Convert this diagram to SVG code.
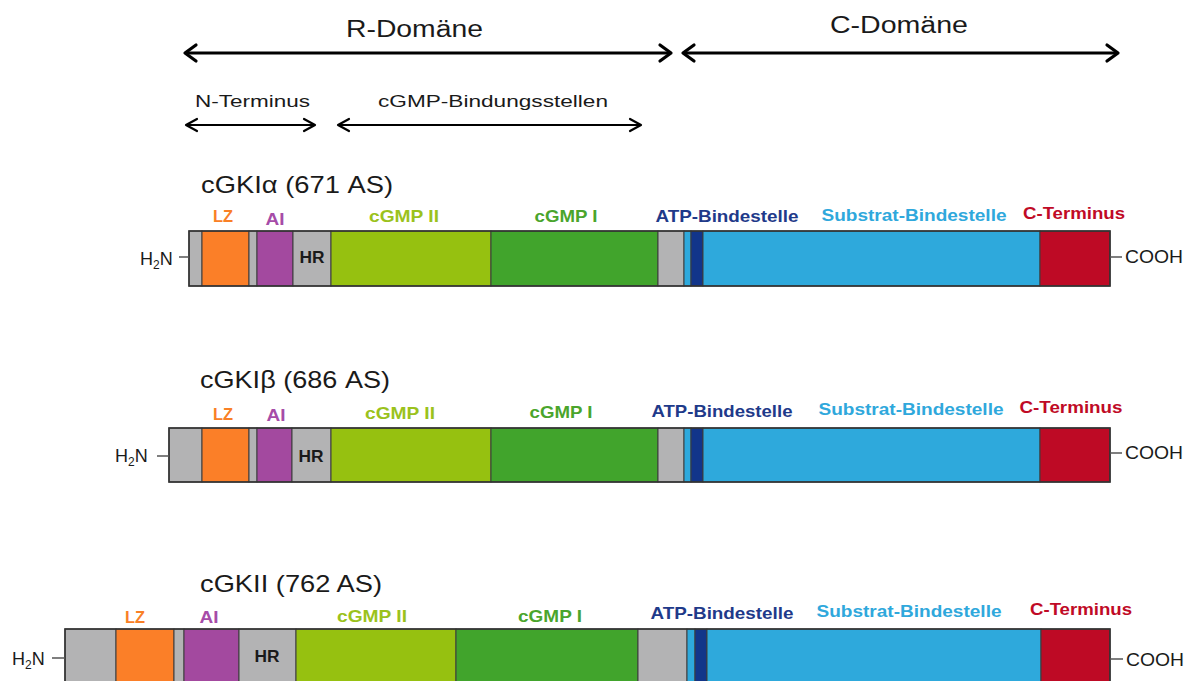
<svg xmlns="http://www.w3.org/2000/svg" width="1191" height="681" viewBox="0 0 1191 681">
<style>
  .t{font-family:"Liberation Sans",Arial,sans-serif;fill:#1a1a1a}
  .dom{font-size:23px}
  .sub{font-size:16.5px}
  .title{font-size:24px}
  .lab{font-size:16.5px;font-weight:bold}
  .term{font-size:18px}
  .seg{stroke:#3c3c3c;stroke-width:1}
  .outline{fill:none;stroke:#333;stroke-width:1.6}
  .gray{fill:#b3b3b4}
  .lz{fill:#fb7f28}
  .ai{fill:#a3499f}
  .g2{fill:#96c110}
  .g1{fill:#41a42c}
  .lb{fill:#2ea9dc}
  .db{fill:#12358a}
  .red{fill:#be0a25}
  .cLZ{fill:#f98026}
  .cAI{fill:#a64ca8}
  .cG2{fill:#9bc21c}
  .cG1{fill:#4aa52c}
  .cATP{fill:#1f3a8a}
  .cSUB{fill:#2fa8dc}
  .cCT{fill:#c00a26}
  .big{stroke:#000;stroke-width:3;fill:none}
  .small{stroke:#000;stroke-width:2;fill:none}
  .stub{stroke:#555;stroke-width:1.5}
</style>
<defs>
  <marker id="chevBig" markerUnits="userSpaceOnUse" markerWidth="30" markerHeight="30" viewBox="-15 -15 30 30" refX="0" refY="0" orient="auto-start-reverse" overflow="visible">
    <path d="M-11,-8 L0,0 L-11,8" fill="none" stroke="#000" stroke-width="3.2" stroke-linecap="round" stroke-linejoin="round"/>
  </marker>
  <marker id="chevSmall" markerUnits="userSpaceOnUse" markerWidth="30" markerHeight="30" viewBox="-15 -15 30 30" refX="0" refY="0" orient="auto-start-reverse" overflow="visible">
    <path d="M-11,-6 L0,0 L-11,6" fill="none" stroke="#000" stroke-width="2.2" stroke-linecap="round" stroke-linejoin="round"/>
  </marker>
</defs>

<g id="connectors">
  <line class="big" x1="185" y1="53" x2="671" y2="53" marker-start="url(#chevBig)" marker-end="url(#chevBig)"/>
  <line class="big" x1="683" y1="53" x2="1118" y2="53" marker-start="url(#chevBig)" marker-end="url(#chevBig)"/>
  <line class="small" x1="186" y1="125" x2="315" y2="125" marker-start="url(#chevSmall)" marker-end="url(#chevSmall)"/>
  <line class="small" x1="338" y1="125" x2="641" y2="125" marker-start="url(#chevSmall)" marker-end="url(#chevSmall)"/>
</g>

<g id="domain-labels">
  <text class="t dom" x="346" y="37" textLength="137" lengthAdjust="spacingAndGlyphs">R-Domäne</text>
  <text class="t dom" x="830" y="33" textLength="138" lengthAdjust="spacingAndGlyphs">C-Domäne</text>
  <text class="t sub" x="195" y="107" textLength="115" lengthAdjust="spacingAndGlyphs">N-Terminus</text>
  <text class="t sub" x="378" y="107" textLength="230" lengthAdjust="spacingAndGlyphs">cGMP-Bindungsstellen</text>
</g>

<g id="cGKIalpha">
  <text class="t title" x="201" y="193" textLength="192" lengthAdjust="spacingAndGlyphs">cGKIα (671 AS)</text>
  <rect class="seg gray" x="189" y="231" width="13" height="55"/>
  <rect class="seg lz" x="202" y="231" width="47" height="55"/>
  <rect class="seg gray" x="249" y="231" width="8" height="55"/>
  <rect class="seg ai" x="257" y="231" width="36" height="55"/>
  <rect class="seg gray" x="293" y="231" width="38" height="55"/>
  <rect class="seg g2" x="331" y="231" width="160" height="55"/>
  <rect class="seg g1" x="491" y="231" width="167" height="55"/>
  <rect class="seg gray" x="658" y="231" width="26" height="55"/>
  <rect class="seg lb" x="684" y="231" width="7" height="55"/>
  <rect class="seg db" x="691" y="231" width="12" height="55"/>
  <rect class="seg lb" x="703" y="231" width="337" height="55"/>
  <rect class="seg red" x="1040" y="231" width="70" height="55"/>
  <rect class="outline" x="189" y="231" width="921" height="55"/>
  <line class="stub" x1="179" y1="257" x2="189" y2="257"/>
  <line class="stub" x1="1110" y1="257" x2="1122" y2="257"/>
  <text class="t term" x="140" y="265">H<tspan font-size="12" dy="4">2</tspan><tspan dy="-4">N</tspan></text>
  <text class="t term" x="1125" y="263" textLength="58" lengthAdjust="spacingAndGlyphs">COOH</text>
  <text class="t lab cLZ" x="223" y="222" text-anchor="middle" textLength="20" lengthAdjust="spacingAndGlyphs">LZ</text>
  <text class="t lab cAI" x="275" y="225" text-anchor="middle" textLength="19" lengthAdjust="spacingAndGlyphs">AI</text>
  <text class="t lab cG2" x="404" y="222" text-anchor="middle" textLength="70" lengthAdjust="spacingAndGlyphs">cGMP II</text>
  <text class="t lab" x="312" y="263" text-anchor="middle" textLength="25" lengthAdjust="spacingAndGlyphs">HR</text>
  <text class="t lab cG1" x="566" y="222" text-anchor="middle" textLength="63" lengthAdjust="spacingAndGlyphs">cGMP I</text>
  <text class="t lab cATP" x="727" y="222" text-anchor="middle" textLength="143" lengthAdjust="spacingAndGlyphs">ATP-Bindestelle</text>
  <text class="t lab cSUB" x="914" y="221" text-anchor="middle" textLength="185" lengthAdjust="spacingAndGlyphs">Substrat-Bindestelle</text>
  <text class="t lab cCT" x="1074" y="219" text-anchor="middle" textLength="102" lengthAdjust="spacingAndGlyphs">C-Terminus</text>
</g>

<g id="cGKIbeta">
  <text class="t title" x="200" y="388" textLength="190" lengthAdjust="spacingAndGlyphs">cGKIβ (686 AS)</text>
  <rect class="seg gray" x="169" y="428" width="33" height="54"/>
  <rect class="seg lz" x="202" y="428" width="47" height="54"/>
  <rect class="seg gray" x="249" y="428" width="8" height="54"/>
  <rect class="seg ai" x="257" y="428" width="35" height="54"/>
  <rect class="seg gray" x="292" y="428" width="39" height="54"/>
  <rect class="seg g2" x="331" y="428" width="160" height="54"/>
  <rect class="seg g1" x="491" y="428" width="167" height="54"/>
  <rect class="seg gray" x="658" y="428" width="26" height="54"/>
  <rect class="seg lb" x="684" y="428" width="7" height="54"/>
  <rect class="seg db" x="691" y="428" width="12" height="54"/>
  <rect class="seg lb" x="703" y="428" width="337" height="54"/>
  <rect class="seg red" x="1040" y="428" width="70" height="54"/>
  <rect class="outline" x="169" y="428" width="941" height="54"/>
  <line class="stub" x1="157" y1="456" x2="169" y2="456"/>
  <line class="stub" x1="1110" y1="453" x2="1122" y2="453"/>
  <text class="t term" x="115" y="462">H<tspan font-size="12" dy="4">2</tspan><tspan dy="-4">N</tspan></text>
  <text class="t term" x="1125" y="459" textLength="58" lengthAdjust="spacingAndGlyphs">COOH</text>
  <text class="t lab cLZ" x="223" y="420" text-anchor="middle" textLength="20" lengthAdjust="spacingAndGlyphs">LZ</text>
  <text class="t lab cAI" x="276" y="421" text-anchor="middle" textLength="19" lengthAdjust="spacingAndGlyphs">AI</text>
  <text class="t lab cG2" x="400" y="419" text-anchor="middle" textLength="70" lengthAdjust="spacingAndGlyphs">cGMP II</text>
  <text class="t lab" x="311" y="462" text-anchor="middle" textLength="25" lengthAdjust="spacingAndGlyphs">HR</text>
  <text class="t lab cG1" x="561" y="418" text-anchor="middle" textLength="63" lengthAdjust="spacingAndGlyphs">cGMP I</text>
  <text class="t lab cATP" x="722" y="417" text-anchor="middle" textLength="141" lengthAdjust="spacingAndGlyphs">ATP-Bindestelle</text>
  <text class="t lab cSUB" x="911" y="415" text-anchor="middle" textLength="185" lengthAdjust="spacingAndGlyphs">Substrat-Bindestelle</text>
  <text class="t lab cCT" x="1071" y="413" text-anchor="middle" textLength="103" lengthAdjust="spacingAndGlyphs">C-Terminus</text>
</g>

<g id="cGKII">
  <text class="t title" x="200" y="592" textLength="182" lengthAdjust="spacingAndGlyphs">cGKII (762 AS)</text>
  <rect class="seg gray" x="65" y="629" width="51" height="56"/>
  <rect class="seg lz" x="116" y="629" width="58" height="56"/>
  <rect class="seg gray" x="174" y="629" width="10" height="56"/>
  <rect class="seg ai" x="184" y="629" width="55" height="56"/>
  <rect class="seg gray" x="239" y="629" width="57" height="56"/>
  <rect class="seg g2" x="296" y="629" width="160" height="56"/>
  <rect class="seg g1" x="456" y="629" width="182" height="56"/>
  <rect class="seg gray" x="638" y="629" width="49" height="56"/>
  <rect class="seg lb" x="687" y="629" width="8" height="56"/>
  <rect class="seg db" x="695" y="629" width="12" height="56"/>
  <rect class="seg lb" x="707" y="629" width="334" height="56"/>
  <rect class="seg red" x="1041" y="629" width="69" height="56"/>
  <rect class="outline" x="65" y="629" width="1045" height="56"/>
  <line class="stub" x1="52" y1="658" x2="65" y2="658"/>
  <line class="stub" x1="1110" y1="659" x2="1123" y2="659"/>
  <text class="t term" x="12" y="665">H<tspan font-size="12" dy="4">2</tspan><tspan dy="-4">N</tspan></text>
  <text class="t term" x="1126" y="666" textLength="58" lengthAdjust="spacingAndGlyphs">COOH</text>
  <text class="t lab cLZ" x="135" y="623" text-anchor="middle" textLength="20" lengthAdjust="spacingAndGlyphs">LZ</text>
  <text class="t lab cAI" x="209" y="623" text-anchor="middle" textLength="19" lengthAdjust="spacingAndGlyphs">AI</text>
  <text class="t lab cG2" x="372" y="622" text-anchor="middle" textLength="70" lengthAdjust="spacingAndGlyphs">cGMP II</text>
  <text class="t lab" x="267" y="662" text-anchor="middle" textLength="25" lengthAdjust="spacingAndGlyphs">HR</text>
  <text class="t lab cG1" x="550" y="622" text-anchor="middle" textLength="64" lengthAdjust="spacingAndGlyphs">cGMP I</text>
  <text class="t lab cATP" x="722" y="619" text-anchor="middle" textLength="143" lengthAdjust="spacingAndGlyphs">ATP-Bindestelle</text>
  <text class="t lab cSUB" x="909" y="617" text-anchor="middle" textLength="185" lengthAdjust="spacingAndGlyphs">Substrat-Bindestelle</text>
  <text class="t lab cCT" x="1081" y="615" text-anchor="middle" textLength="102" lengthAdjust="spacingAndGlyphs">C-Terminus</text>
</g>
</svg>
